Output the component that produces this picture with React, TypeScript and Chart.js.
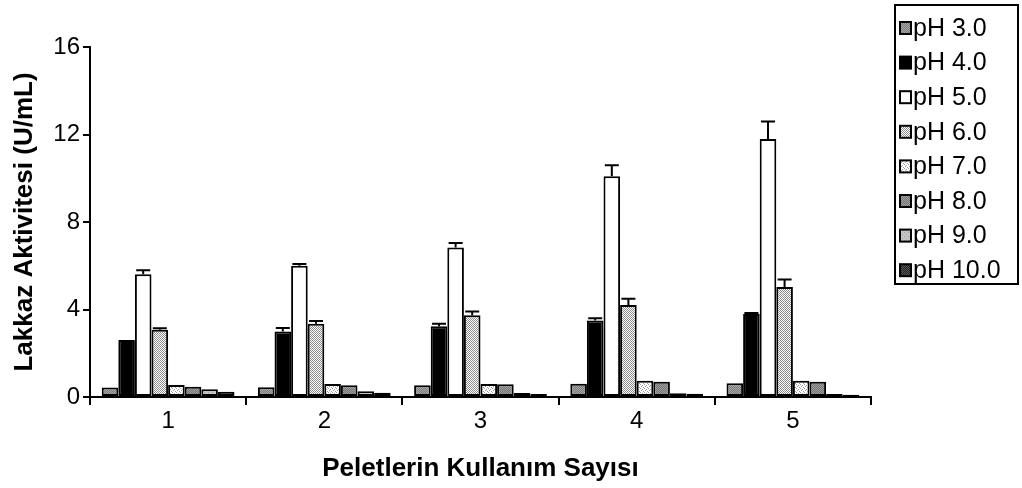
import React, { useEffect, useRef } from "react";
import { Chart, registerables } from "chart.js";

Chart.register(...registerables);

// ---- data ----
const categories = ["1", "2", "3", "4", "5"];
const seriesLabels = ["pH 3.0", "pH 4.0", "pH 5.0", "pH 6.0", "pH 7.0", "pH 8.0", "pH 9.0", "pH 10.0"];
const ph3 = [0.43, 0.45, 0.54, 0.61, 0.63];
const ph4 = [2.61, 3.0, 3.24, 3.5, 3.8];
const ph5 = [5.61, 6.0, 6.83, 10.09, 11.8];
const ph6 = [3.08, 3.35, 3.74, 4.21, 5.03];
const ph7 = [0.55, 0.6, 0.6, 0.74, 0.74];
const ph8 = [0.47, 0.54, 0.58, 0.7, 0.7];
const ph9 = [0.35, 0.26, 0.18, 0.17, 0.14];
const ph10 = [0.24, 0.2, 0.14, 0.15, 0.1];
const ph4Err = [0, 0.15, 0.11, 0.1, 0.04];
const ph5Err = [0.18, 0.08, 0.21, 0.5, 0.8];
const ph6Err = [0.06, 0.12, 0.17, 0.28, 0.34];
const yTicks = [0, 4, 8, 12, 16];
const xTitle = "Peletlerin Kullanım Sayısı";
const yTitle = "Lakkaz Aktivitesi (U/mL)";

const FONT = "'Liberation Sans', Arial, sans-serif";

function makePattern(bg: string, fg: string, size: number, dots: number[][]) {
  const c = document.createElement("canvas");
  c.width = size;
  c.height = size;
  const g = c.getContext("2d")!;
  g.fillStyle = bg;
  g.fillRect(0, 0, size, size);
  g.fillStyle = fg;
  dots.forEach(([x, y]) => g.fillRect(x, y, 1, 1));
  return g.createPattern(c, "repeat")!;
}

const checker = [[0, 0], [2, 0], [1, 1], [3, 1], [0, 2], [2, 2], [1, 3], [3, 3]];
const sparse = [[0, 0], [2, 1], [1, 2], [3, 3]];
const sparse2 = [[0, 0], [2, 2]];

const errorBarPlugin = {
  id: "errorBars",
  afterDatasetsDraw(chart: any) {
    const ctx = chart.ctx;
    const yScale = chart.scales.y;
    chart.data.datasets.forEach((ds: any, i: number) => {
      const errs = ds.errors;
      if (!errs) return;
      const meta = chart.getDatasetMeta(i);
      meta.data.forEach((bar: any, j: number) => {
        const e = errs[j];
        if (!e) return;
        const top = yScale.getPixelForValue(ds.data[j] + e);
        const half = 7;
        ctx.save();
        ctx.strokeStyle = "#000";
        ctx.lineWidth = 2;
        ctx.beginPath();
        ctx.moveTo(bar.x, bar.y);
        ctx.lineTo(bar.x, top);
        ctx.moveTo(bar.x - half, top);
        ctx.lineTo(bar.x + half, top);
        ctx.stroke();
        ctx.restore();
      });
    });
  },
};

const boxLegendPlugin = {
  id: "boxLegend",
  afterDraw(chart: any) {
    const ctx = chart.ctx;
    const boxL = 895;
    const boxT = 5;
    const boxW = 123;
    const boxH = 279;
    const step = 34.6;
    const firstY = 28;
    ctx.save();
    ctx.lineWidth = 2;
    ctx.strokeStyle = "#000";
    ctx.strokeRect(boxL, boxT, boxW, boxH);
    ctx.font = `25px ${FONT}`;
    ctx.textBaseline = "middle";
    ctx.textAlign = "left";
    chart.data.datasets.forEach((ds: any, i: number) => {
      const cy = firstY + i * step;
      ctx.fillStyle = ds.backgroundColor;
      ctx.fillRect(900, cy - 6, 11, 12);
      ctx.strokeRect(900, cy - 6, 11, 12);
      ctx.fillStyle = "#000";
      ctx.fillText(ds.label, 913, cy + 1);
    });
    ctx.restore();
  },
};

export default function App() {
  const ref = useRef<HTMLCanvasElement>(null);

  useEffect(() => {
    const canvas = ref.current!;
    const fills = [
      makePattern("#7a7a7a", "#a8a8a8", 4, checker),
      "#000000",
      "#ffffff",
      makePattern("#ffffff", "#8c8c8c", 4, checker),
      makePattern("#ffffff", "#9a9a9a", 4, sparse),
      makePattern("#737373", "#a0a0a0", 4, checker),
      makePattern("#c4c4c4", "#9c9c9c", 4, sparse2),
      makePattern("#1e1e1e", "#5a5a5a", 4, checker),
    ];
    const values = [ph3, ph4, ph5, ph6, ph7, ph8, ph9, ph10];
    const errors: (number[] | undefined)[] = [undefined, ph4Err, ph5Err, ph6Err, undefined, undefined, undefined, undefined];

    const chart = new Chart(canvas, {
      type: "bar",
      data: {
        labels: categories,
        datasets: seriesLabels.map((label, i) => ({
          label,
          data: values[i],
          errors: errors[i],
          backgroundColor: fills[i] as any,
          borderColor: "#000",
          borderWidth: 2,
          borderSkipped: false,
          barPercentage: 1,
          categoryPercentage: 0.85,
        })) as any,
      },
      options: {
        responsive: false,
        animation: false,
        devicePixelRatio: 1,
        layout: { padding: { left: 0, top: 47, right: 151, bottom: 0 } },
        plugins: { legend: { display: false }, tooltip: { enabled: false } },
        scales: {
          x: {
            offset: true,
            grid: { offset: true, drawOnChartArea: false, drawTicks: true, tickLength: 8, color: "#000", lineWidth: 2 },
            border: { color: "#000", width: 2 },
            ticks: { color: "#000", font: { family: FONT, size: 24 }, padding: 2 },
            title: {
              display: true,
              text: xTitle,
              color: "#000",
              font: { family: FONT, size: 26, weight: "bold" },
              padding: { top: 4, bottom: 4 },
            },
            afterFit: (s: any) => {
              s.height = 91;
            },
          },
          y: {
            min: 0,
            max: 16,
            afterBuildTicks: (s: any) => {
              s.ticks = yTicks.map((v) => ({ value: v }));
            },
            grid: { drawOnChartArea: false, drawTicks: true, tickLength: 7, color: "#000", lineWidth: 2 },
            border: { color: "#000", width: 2 },
            ticks: { color: "#000", font: { family: FONT, size: 24 }, padding: 3 },
            title: {
              display: true,
              text: yTitle,
              color: "#000",
              font: { family: FONT, size: 26, weight: "bold" },
              padding: { top: 9, bottom: 0 },
            },
            afterFit: (s: any) => {
              s.width = 90;
            },
          },
        },
      } as any,
      plugins: [errorBarPlugin, boxLegendPlugin],
    });
    return () => chart.destroy();
  }, []);

  return (
    <div style={{ position: "absolute", left: 0, top: 0, width: 1022, height: 488, background: "#fff" }}>
      <canvas ref={ref} width={1022} height={488} style={{ display: "block" }} />
    </div>
  );
}
